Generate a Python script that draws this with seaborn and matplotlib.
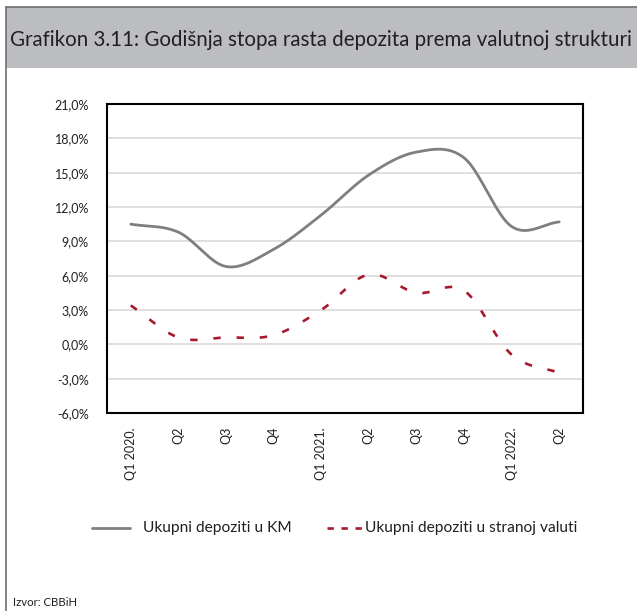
import numpy as np
import pandas as pd
import matplotlib.pyplot as plt
import seaborn as sns
from matplotlib.lines import Line2D
from matplotlib.patches import Rectangle
from matplotlib.ticker import FuncFormatter

# data (annual growth rate, %)
quarters = ['Q1 2020.', 'Q2', 'Q3', 'Q4', 'Q1 2021.', 'Q2', 'Q3', 'Q4', 'Q1 2022.', 'Q2']
depoziti_km = [10.5, 9.8, 6.8, 8.3, 11.3, 14.8, 16.8, 16.3, 10.3, 10.7]
depoziti_strana = [3.4, 0.6, 0.6, 0.8, 3.0, 6.1, 4.5, 4.7, -0.9, -2.5]

GRAY = '#7f7f7f'
RED = '#a6192e'
TXT = '#231f20'


def smooth(y, n=24):
    # Catmull-Rom curve through the points (like Excel "smoothed line")
    y = np.asarray(y, dtype=float)
    p = np.concatenate([[2 * y[0] - y[1]], y, [2 * y[-1] - y[-2]]])
    xs, ys = [], []
    for i in range(len(y) - 1):
        t = np.linspace(0, 1, n, endpoint=False)
        p0, p1, p2, p3 = p[i], p[i + 1], p[i + 2], p[i + 3]
        v = 0.5 * (2 * p1 + (-p0 + p2) * t + (2 * p0 - 5 * p1 + 4 * p2 - p3) * t ** 2
                   + (-p0 + 3 * p1 - 3 * p2 + p3) * t ** 3)
        xs.extend(i + t)
        ys.extend(v)
    xs.append(len(y) - 1)
    ys.append(y[-1])
    return np.array(xs), np.array(ys)


def fx(px):
    return px / 637


def fy(py):
    return 1 - py / 611


sns.set_style('white')
plt.rcParams['font.family'] = ['Lato', 'DejaVu Sans']

fig = plt.figure(figsize=(6.37, 6.11), dpi=100)

# header band and frame lines
fig.patches.append(Rectangle((fx(6), fy(68)), fx(631), 61 / 611,
                             transform=fig.transFigure, facecolor='#bcbdc0',
                             edgecolor='none', zorder=0))
fig.lines.append(Line2D([fx(6), fx(6)], [0, fy(7)], transform=fig.transFigure,
                        color='#6d6e71', lw=1.2))
fig.lines.append(Line2D([fx(6), 1], [fy(7), fy(7)], transform=fig.transFigure,
                        color='#6d6e71', lw=1.2))
fig.text(fx(10), fy(40), 'Grafikon 3.11: Godišnja stopa rasta depozita prema valutnoj strukturi',
         fontsize=14.8, va='center', ha='left', color=TXT)

ax = fig.add_axes([fx(107), fy(413), 476 / 637, 309 / 611])

xk, yk = smooth(depoziti_km)
sns.lineplot(x=xk, y=yk, ax=ax, color=GRAY, lw=2.0, sort=False, estimator=None)
xs, ys = smooth(depoziti_strana)
sns.lineplot(x=xs, y=ys, ax=ax, color=RED, lw=1.9, sort=False, estimator=None)
ax.lines[-1].set_dashes((2.8, 6.0))

ax.set_xlim(-0.5, 9.5)
ax.set_ylim(-6, 21)
ax.set_yticks(np.arange(-6, 22, 3))
ax.yaxis.set_major_formatter(FuncFormatter(lambda v, p: f'{v:.1f}%'.replace('.', ',')))
ax.set_xticks(range(len(quarters)))
ax.set_xticklabels(quarters, rotation=90, fontsize=9, color=TXT)
ax.grid(axis='y', color='#d9d9d9', lw=1.2)
ax.grid(axis='x', visible=False)
ax.set_axisbelow(True)
for s in ax.spines.values():
    s.set_color('black')
    s.set_linewidth(1.5)
ax.tick_params(axis='y', length=0, labelsize=9, pad=13, labelcolor=TXT)
ax.tick_params(axis='x', length=0, pad=10)

# legend, laid out like the original
fig.lines.append(Line2D([fx(92), fx(130)], [fy(528), fy(528)], transform=fig.transFigure,
                        color=GRAY, lw=2.0))
fig.text(fx(143), fy(528), 'Ukupni depoziti u KM', fontsize=11.2, va='center', ha='left',
         color=TXT)
fig.lines.append(Line2D([fx(327), fx(363)], [fy(528), fy(528)], transform=fig.transFigure,
                        color=RED, lw=1.9, dashes=(2.4, 2.9)))
fig.text(fx(365), fy(528), 'Ukupni depoziti u stranoj valuti', fontsize=11.2, va='center',
         ha='left', color=TXT)

fig.text(fx(13), fy(602), 'Izvor: CBBiH', fontsize=8.2, va='center', ha='left', color=TXT)

fig.savefig('out.png', dpi=100)
